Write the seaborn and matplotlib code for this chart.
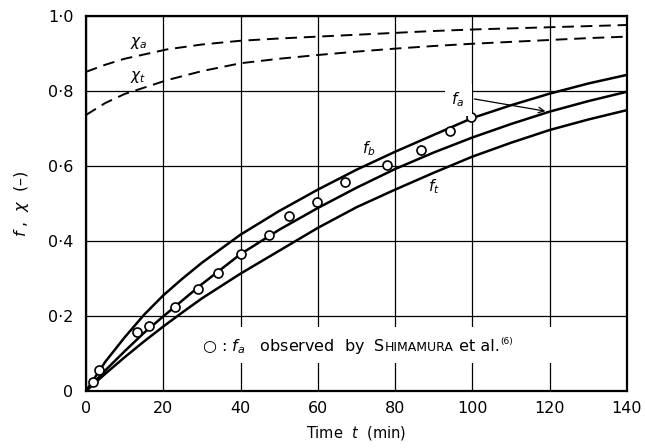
import numpy as np
import pandas as pd
import matplotlib
matplotlib.use("Agg")
import matplotlib.pyplot as plt
from matplotlib.patches import Rectangle
import seaborn as sns

# ---------------- data ----------------
time_min = [0, 5, 10, 15, 20, 25, 30, 40, 50, 60, 70, 80, 90, 100, 110, 120, 130, 140]
f_b = [0.0, 0.078, 0.143, 0.203, 0.255, 0.300, 0.342, 0.417, 0.480, 0.537, 0.590, 0.638, 0.683, 0.728, 0.762, 0.793, 0.820, 0.843]
f_a = [0.0, 0.055, 0.106, 0.155, 0.199, 0.242, 0.285, 0.365, 0.430, 0.488, 0.542, 0.592, 0.636, 0.676, 0.712, 0.745, 0.773, 0.798]
f_t = [0.0, 0.046, 0.090, 0.132, 0.172, 0.210, 0.247, 0.313, 0.374, 0.435, 0.490, 0.537, 0.582, 0.625, 0.662, 0.696, 0.724, 0.749]

chi_time = [0, 5, 10, 21, 30, 40, 50, 60, 70, 80, 90, 100, 110, 120, 130, 140]
chi_a = [0.851, 0.870, 0.886, 0.911, 0.924, 0.934, 0.940, 0.945, 0.950, 0.955, 0.960, 0.964, 0.967, 0.970, 0.973, 0.976]
chi_t = [0.736, 0.768, 0.792, 0.829, 0.853, 0.874, 0.886, 0.896, 0.905, 0.913, 0.920, 0.926, 0.931, 0.936, 0.941, 0.945]

obs_time = [1.7, 3.4, 13.1, 16.3, 23.0, 29.1, 34.1, 40.1, 47.3, 52.5, 59.9, 67.1, 77.9, 86.7, 94.3, 99.7]
obs_fa = [0.025, 0.056, 0.158, 0.174, 0.224, 0.272, 0.316, 0.366, 0.415, 0.468, 0.505, 0.558, 0.603, 0.644, 0.694, 0.730]

x_ticks = [0, 20, 40, 60, 80, 100, 120, 140]
y_ticks = [0, 0.2, 0.4, 0.6, 0.8, 1.0]
y_tick_labels = ["0", "0·2", "0·4", "0·6", "0·8", "1·0"]

# ---------------- figure ----------------
sns.set_style("white")
plt.rcParams["font.family"] = ["DejaVu Sans"]
plt.rcParams["mathtext.fontset"] = "dejavusans"
plt.rcParams["text.color"] = "black"
plt.rcParams["axes.labelcolor"] = "black"

fig = plt.figure(figsize=(6.45, 4.48), dpi=100)
ax = fig.add_axes([0.1333, 0.1272, 0.8387, 0.8371])

curves = pd.DataFrame({"t": time_min, "fb": f_b, "fa": f_a, "ft": f_t})
chis = pd.DataFrame({"t": chi_time, "chia": chi_a, "chit": chi_t})
obs = pd.DataFrame({"t": obs_time, "fa": obs_fa})

for col in ["fb", "fa", "ft"]:
    sns.lineplot(data=curves, x="t", y=col, ax=ax, color="black", lw=1.8, zorder=3)
for col in ["chia", "chit"]:
    sns.lineplot(data=chis, x="t", y=col, ax=ax, color="black", lw=1.4,
                 zorder=3).lines[-1].set_dashes((6, 3.5))

sns.scatterplot(data=obs, x="t", y="fa", ax=ax, marker="o", s=42,
                facecolor="white", edgecolor="black", linewidth=1.2, zorder=4)

ax.set_xlim(0, 140)
ax.set_ylim(0, 1.0)
ax.set_xticks(x_ticks)
ax.set_yticks(y_ticks)
ax.set_yticklabels(y_tick_labels)
ax.tick_params(axis="both", length=0, labelsize=11.5, colors="black")
ax.tick_params(axis="x", pad=7)
ax.tick_params(axis="y", pad=9)
ax.grid(True, color="black", lw=0.9, zorder=1)
ax.set_axisbelow(True)
for sp in ax.spines.values():
    sp.set_visible(True)
    sp.set_color("black")
    sp.set_linewidth(1.6)

ax.set_xlabel("Time  $t$  (min)", fontsize=10.5, labelpad=6)
ax.set_ylabel("$f$ ,  $\\chi$  (–)", fontsize=11.5, labelpad=12)

# curve labels
ax.text(13.6, 0.929, "$\\chi_a$", fontsize=11, ha="center", va="center", zorder=5)
ax.text(13.6, 0.836, "$\\chi_t$", fontsize=11, ha="center", va="center", zorder=5)
ax.text(73.2, 0.645, "$f_b$", fontsize=11, ha="center", va="center", zorder=5)
ax.text(90.0, 0.545, "$f_t$", fontsize=11, ha="center", va="center", zorder=5)
ax.text(96.3, 0.776, "$f_a$", fontsize=11, ha="center", va="center", zorder=5,
        bbox=dict(facecolor="white", edgecolor="none", pad=5))
ax.annotate("", xy=(119.6, 0.745), xytext=(99.8, 0.780),
            arrowprops=dict(arrowstyle="->", color="black", lw=0.9), zorder=5)

# legend-like note with white mask behind
ax.add_patch(Rectangle((27, 0.075), 98, 0.097, facecolor="white", edgecolor="none", zorder=2))
fig.canvas.draw()
renderer = fig.canvas.get_renderer()
x_start, y_base = 30.0, 0.106
t1 = ax.text(x_start, y_base, "○ : $f_a$   observed  by  S", fontsize=11.5, va="baseline", ha="left", zorder=5)

def after(prev, text, size, dy=0.0):
    bb = prev.get_window_extent(renderer=renderer)
    yb = ax.transData.transform((0, y_base))[1]
    xd, yd = ax.transData.inverted().transform((bb.x1, yb + dy))
    t = ax.text(xd, yd, text, fontsize=size, va="baseline", ha="left", zorder=5)
    fig.canvas.draw()
    return t

t2 = after(t1, "HIMAMURA", 9)
t3 = after(t2, " et al.", 11.5)
t4 = after(t3, "(6)", 6.5, dy=7)

fig.savefig("out.png", dpi=100)
